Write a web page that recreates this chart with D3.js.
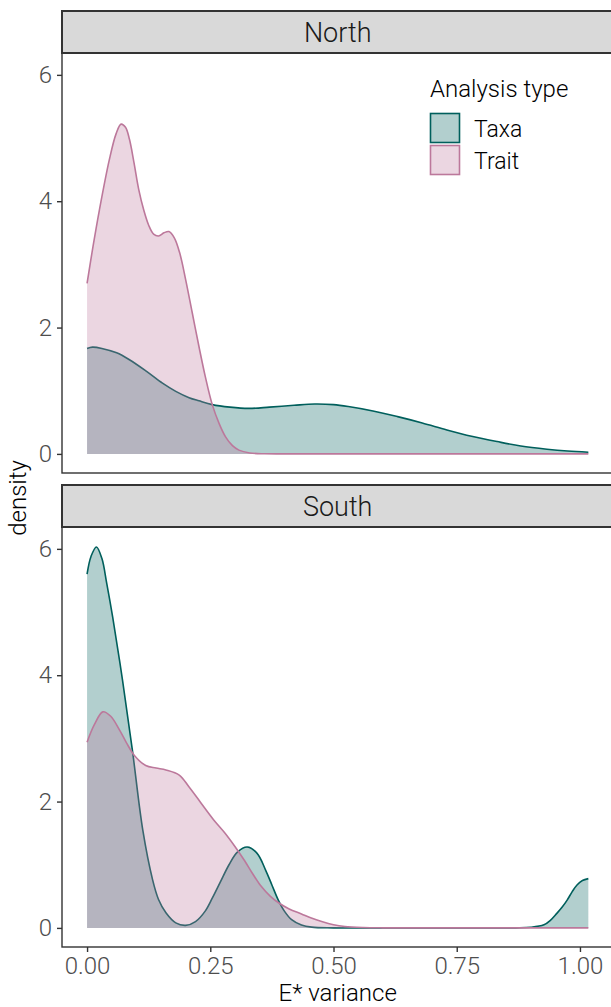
<!DOCTYPE html>
<html>
<head>
<meta charset="utf-8">
<script src="https://cdn.jsdelivr.net/npm/d3@7"></script>
<style>
html,body{margin:0;padding:0;background:#fff;}
svg{display:block;}
text{font-family:Roboto,"Liberation Sans",Arial,sans-serif;font-weight:300;}
</style>
</head>
<body>
<svg id="chart" width="611" height="1007"></svg>
<script>
// ---------------- data ----------------
const panels = ["North", "South"];
const seriesNames = ["Taxa", "Trait"];
const xTicks = [0, 0.25, 0.5, 0.75, 1.0];
const xTickLabels = ["0.00", "0.25", "0.50", "0.75", "1.00"];
const yTicks = [0, 2, 4, 6];
const xLabel = "E* variance";
const yLabel = "density";
const legendTitle = "Analysis type";

// density estimates: [x, density]
const northTaxa = [
  [0,1.67],[0.011,1.69],[0.03,1.67],[0.06,1.6],[0.086,1.49],[0.12,1.31],[0.153,1.12],
  [0.18,0.99],[0.207,0.89],[0.227,0.84],[0.254,0.78],[0.29,0.74],[0.328,0.72],[0.37,0.74],
  [0.42,0.77],[0.462,0.79],[0.5,0.78],[0.53,0.75],[0.58,0.68],[0.63,0.59],[0.68,0.49],
  [0.73,0.38],[0.78,0.28],[0.832,0.195],[0.88,0.125],[0.933,0.074],[0.975,0.045],[1.017,0.027]
];
const northTrait = [
  [0,2.70],[0.012,3.28],[0.025,3.86],[0.045,4.65],[0.059,5.07],[0.069,5.22],[0.078,5.17],
  [0.086,4.98],[0.095,4.62],[0.105,4.18],[0.115,3.86],[0.125,3.62],[0.135,3.48],[0.145,3.45],
  [0.156,3.5],[0.166,3.52],[0.177,3.42],[0.188,3.18],[0.2,2.76],[0.213,2.25],[0.227,1.70],[0.24,1.22],
  [0.254,0.78],[0.268,0.48],[0.281,0.27],[0.295,0.13],[0.308,0.06],[0.33,0.015],[0.36,0.002],
  [0.4,0],[0.5,0],[0.7,0],[0.9,0],[1.017,0]
];
const southTaxa = [
  [0,5.60],[0.008,5.88],[0.019,6.03],[0.03,5.85],[0.04,5.45],[0.052,4.92],[0.072,3.92],
  [0.092,2.81],[0.113,1.55],[0.133,0.76],[0.145,0.45],[0.16,0.24],[0.18,0.08],[0.2,0.04],
  [0.22,0.1],[0.24,0.27],[0.254,0.47],[0.27,0.72],[0.288,1.0],[0.305,1.2],[0.325,1.28],
  [0.345,1.18],[0.362,0.92],[0.375,0.68],[0.388,0.44],[0.4,0.27],[0.415,0.13],[0.435,0.045],
  [0.456,0.012],[0.5,0.001],[0.6,0],[0.7,0],[0.8,0],[0.87,0.001],[0.9,0.01],[0.927,0.05],[0.94,0.12],
  [0.953,0.23],[0.964,0.33],[0.974,0.44],[0.984,0.57],[0.994,0.68],[1.005,0.75],[1.017,0.78]
];
const southTrait = [
  [0,2.94],[0.015,3.22],[0.032,3.42],[0.048,3.35],[0.066,3.13],[0.08,2.93],[0.096,2.73],
  [0.119,2.57],[0.14,2.53],[0.16,2.5],[0.187,2.42],[0.207,2.23],[0.23,1.99],[0.257,1.71],
  [0.28,1.5],[0.3,1.29],[0.32,1.06],[0.335,0.87],[0.352,0.67],[0.372,0.5],[0.39,0.39],
  [0.41,0.3],[0.435,0.22],[0.455,0.155],[0.476,0.1],[0.5,0.05],[0.523,0.022],[0.56,0.006],
  [0.6,0.001],[0.7,0],[0.85,0],[1.017,0]
];
const panelData = {
  North: { Taxa: northTaxa, Trait: northTrait },
  South: { Taxa: southTaxa, Trait: southTrait }
};

// ---------------- styling ----------------
const colors = { Taxa: "#005F5C", Trait: "#BC789B" };
const fillAlpha = 0.3;
const axisCol = "#333333";
const tickTextCol = "#4D4D4D";

const svg = d3.select("#chart");

const xMin = 0, xMax = 1.017, yMaxData = 6.044;
const xPad = (xMax - xMin) * 0.05, yPad = yMaxData * 0.05;
const plotLeft = 62, plotRight = 613.4;
const x = d3.scaleLinear().domain([xMin - xPad, xMax + xPad]).range([plotLeft, plotRight]);

const layout = {
  North: { stripTop: 11, top: 53, bottom: 473 },
  South: { stripTop: 485, top: 527, bottom: 947 }
};

const curve = d3.curveCatmullRom.alpha(0.5);
const fontFam = 'Roboto, "Liberation Sans", Arial, sans-serif';

panels.forEach((p, pi) => {
  const L = layout[p];
  const y = d3.scaleLinear().domain([-yPad, yMaxData + yPad]).range([L.bottom, L.top]);
  const g = svg.append("g");

  const area = d3.area().curve(curve)
    .x(d => x(d[0])).y0(y(0)).y1(d => y(d[1]));
  const line = d3.line().curve(curve)
    .x(d => x(d[0])).y(d => y(d[1]));

  seriesNames.forEach(s => {
    const data = panelData[p][s];
    g.append("path").attr("d", area(data))
      .attr("fill", colors[s]).attr("fill-opacity", fillAlpha).attr("stroke", "none");
    g.append("path").attr("d", line(data))
      .attr("fill", "none").attr("stroke", colors[s]).attr("stroke-width", 1.6);
  });

  // panel border
  g.append("rect").attr("x", plotLeft).attr("y", L.top)
    .attr("width", plotRight - plotLeft).attr("height", L.bottom - L.top)
    .attr("fill", "none").attr("stroke", axisCol).attr("stroke-width", 1.4);

  // strip
  g.append("rect").attr("x", plotLeft).attr("y", L.stripTop)
    .attr("width", plotRight - plotLeft).attr("height", L.top - L.stripTop)
    .attr("fill", "#D9D9D9").attr("stroke", axisCol).attr("stroke-width", 2);
  g.append("text").attr("x", (plotLeft + plotRight) / 2).attr("y", (L.stripTop + L.top) / 2 + 9.5)
    .attr("text-anchor", "middle").attr("font-size", 27).attr("fill", "#1A1A1A").text(p);

  // y axis
  const yAxis = d3.axisLeft(y).tickValues(yTicks).tickSize(5).tickSizeOuter(0).tickPadding(5).tickFormat(d3.format("d"));
  const ya = g.append("g").attr("transform", `translate(${plotLeft},0)`).call(yAxis);
  ya.select(".domain").remove();
  ya.selectAll(".tick line").attr("stroke", axisCol).attr("stroke-width", 1.4);
  ya.selectAll(".tick text").attr("font-size", 24).attr("fill", tickTextCol)
    .attr("font-family", fontFam).attr("font-weight", 300);

  if (pi === panels.length - 1) {
    const xAxis = d3.axisBottom(x).tickValues(xTicks).tickSize(5).tickSizeOuter(0).tickPadding(5)
      .tickFormat((d, i) => xTickLabels[i]);
    const xa = g.append("g").attr("transform", `translate(0,${L.bottom})`).call(xAxis);
    xa.select(".domain").remove();
    xa.selectAll(".tick line").attr("stroke", axisCol).attr("stroke-width", 1.4);
    xa.selectAll(".tick text").attr("font-size", 24).attr("fill", tickTextCol)
      .attr("font-family", fontFam).attr("font-weight", 300);
  }
});

// axis titles
svg.append("text").attr("x", (plotLeft + plotRight) / 2).attr("y", 1001)
  .attr("text-anchor", "middle").attr("font-size", 24).attr("fill", "#000").text(xLabel);
svg.append("text").attr("transform", "translate(26,498) rotate(-90)")
  .attr("text-anchor", "middle").attr("font-size", 24).attr("fill", "#000").text(yLabel);

// legend
const lg = svg.append("g");
lg.append("text").attr("x", 430).attr("y", 97).attr("font-size", 24).attr("fill", "#000").text(legendTitle);
seriesNames.forEach((s, i) => {
  const ky = 113.5 + i * 32;
  lg.append("rect").attr("x", 430.5).attr("y", ky).attr("width", 29).attr("height", 29)
    .attr("fill", colors[s]).attr("fill-opacity", fillAlpha)
    .attr("stroke", colors[s]).attr("stroke-width", 1.6);
  lg.append("text").attr("x", 474).attr("y", ky + 23).attr("font-size", 23).attr("fill", "#000").text(s);
});
</script>
</body>
</html>
